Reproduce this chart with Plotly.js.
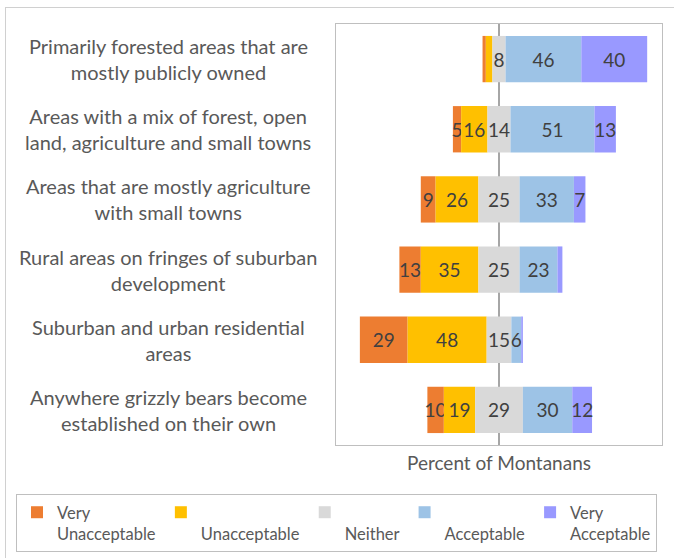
<!DOCTYPE html>
<html>
<head>
<meta charset="utf-8">
<script src="https://cdn.plot.ly/plotly-3.0.1.min.js"></script>
<style>
  html, body { margin: 0; padding: 0; background: #ffffff; }
  #wrap { position: relative; width: 674px; height: 558px; overflow: hidden; }
  #chart { width: 674px; height: 558px; }
  #frame { position: absolute; left: 5px; top: 7px; width: 700px; height: 600px;
           border-left: 1px solid #d0d0d0; border-top: 1px solid #d0d0d0; pointer-events: none; }
</style>
</head>
<body>
<div id="wrap">
  <div id="chart"></div>
  <div id="frame"></div>
</div>
<script>
// ---- Data ----
const categories = [
  "Primarily forested areas that are<br>mostly publicly owned",
  "Areas with a mix of forest, open<br>land, agriculture and small towns",
  "Areas that are mostly agriculture<br>with small towns",
  "Rural areas on fringes of suburban<br>development",
  "Suburban and urban residential<br>areas",
  "Anywhere grizzly bears become<br>established on their own"
];
const veryUnacceptable = [2, 5, 9, 13, 29, 10];
const unacceptable     = [4, 16, 26, 35, 48, 19];
const neither          = [8, 14, 25, 25, 15, 29];
const acceptable       = [46, 51, 33, 23, 6, 30];
const veryAcceptable   = [40, 13, 7, 3, 1, 12];

const seriesNames = ["Very<br>Unacceptable", "\u00a0<br>Unacceptable", "\u00a0<br>Neither", "\u00a0<br>Acceptable", "Very<br>Acceptable"];
const seriesColors = ["#ED7D31", "#FFC000", "#D9D9D9", "#9DC3E6", "#9999FF"];
const axisTitle = "Percent of Montanans";

// ---- Diverging bases (Neither centred on zero) ----
const baseVU = veryUnacceptable.map((v, i) => -(neither[i] / 2 + unacceptable[i] + v));
const baseU  = unacceptable.map((v, i) => -(neither[i] / 2 + v));
const baseN  = neither.map(v => -v / 2);
const baseA  = neither.map(v => v / 2);
const baseVA = acceptable.map((v, i) => neither[i] / 2 + v);

const labelOf = arr => arr.map(v => (v >= 5 ? String(v) : ""));

const FONT = "Lato, 'Open Sans', sans-serif";
const TEXTCOL = "#404040";

function mk(vals, base, idx) {
  return {
    type: "bar",
    orientation: "h",
    y: categories,
    x: vals,
    base: base,
    name: seriesNames[idx],
    marker: { color: seriesColors[idx], line: { width: 0 } },
    text: labelOf(vals),
    textposition: "inside",
    insidetextanchor: "middle",
    textangle: 0,
    constraintext: "none",
    textfont: { family: FONT, size: 19, color: TEXTCOL },
    hoverinfo: "x+name"
  };
}

const traces = [
  mk(veryUnacceptable, baseVU, 0),
  mk(unacceptable, baseU, 1),
  mk(neither, baseN, 2),
  mk(acceptable, baseA, 3),
  mk(veryAcceptable, baseVA, 4)
];

const W = 674, H = 558;
const L = 336, R = 12, T = 24, B = 113;
const plotW = W - L - R, plotH = H - T - B;
const labelCenterPx = 168;

const annotations = categories.map(c => ({
  xref: "paper", yref: "y",
  x: (labelCenterPx - L) / plotW, y: c,
  xanchor: "center", yanchor: "middle",
  align: "center",
  text: c,
  showarrow: false,
  font: { family: FONT, size: 20, color: "#595959" }
}));

const layout = {
  width: W, height: H,
  margin: { l: L, r: R, t: T, b: B, pad: 0, autoexpand: false },
  paper_bgcolor: "#ffffff",
  plot_bgcolor: "#ffffff",
  barmode: "overlay",
  bargap: 0.34,
  font: { family: FONT, color: "#595959" },
  xaxis: {
    range: [-99, 99],
    automargin: false,
    showgrid: false,
    showticklabels: false,
    ticks: "",
    zeroline: true,
    zerolinecolor: "#a6a6a6",
    zerolinewidth: 1.5,
    showline: true, mirror: true, linecolor: "#bfbfbf", linewidth: 1,
    fixedrange: true,
    title: { text: axisTitle, font: { family: FONT, size: 19, color: "#595959" }, standoff: 11 }
  },
  yaxis: {
    type: "category",
    categoryorder: "array",
    categoryarray: categories,
    autorange: "reversed",
    automargin: false,
    showgrid: false,
    showticklabels: false,
    ticks: "",
    zeroline: false,
    showline: true, mirror: true, linecolor: "#bfbfbf", linewidth: 1,
    fixedrange: true
  },
  showlegend: true,
  legend: {
    orientation: "h",
    x: (16 - L) / plotW, xanchor: "left",
    y: -(494 - (T + plotH)) / plotH, yanchor: "top",
    valign: "top",
    bordercolor: "#bfbfbf", borderwidth: 1,
    font: { family: FONT, size: 16.5, color: "#595959" },
    traceorder: "normal",
    itemclick: false, itemdoubleclick: false
  },
  annotations: annotations
};

Plotly.newPlot("chart", traces, layout, { displayModeBar: false, staticPlot: true });
</script>
</body>
</html>
